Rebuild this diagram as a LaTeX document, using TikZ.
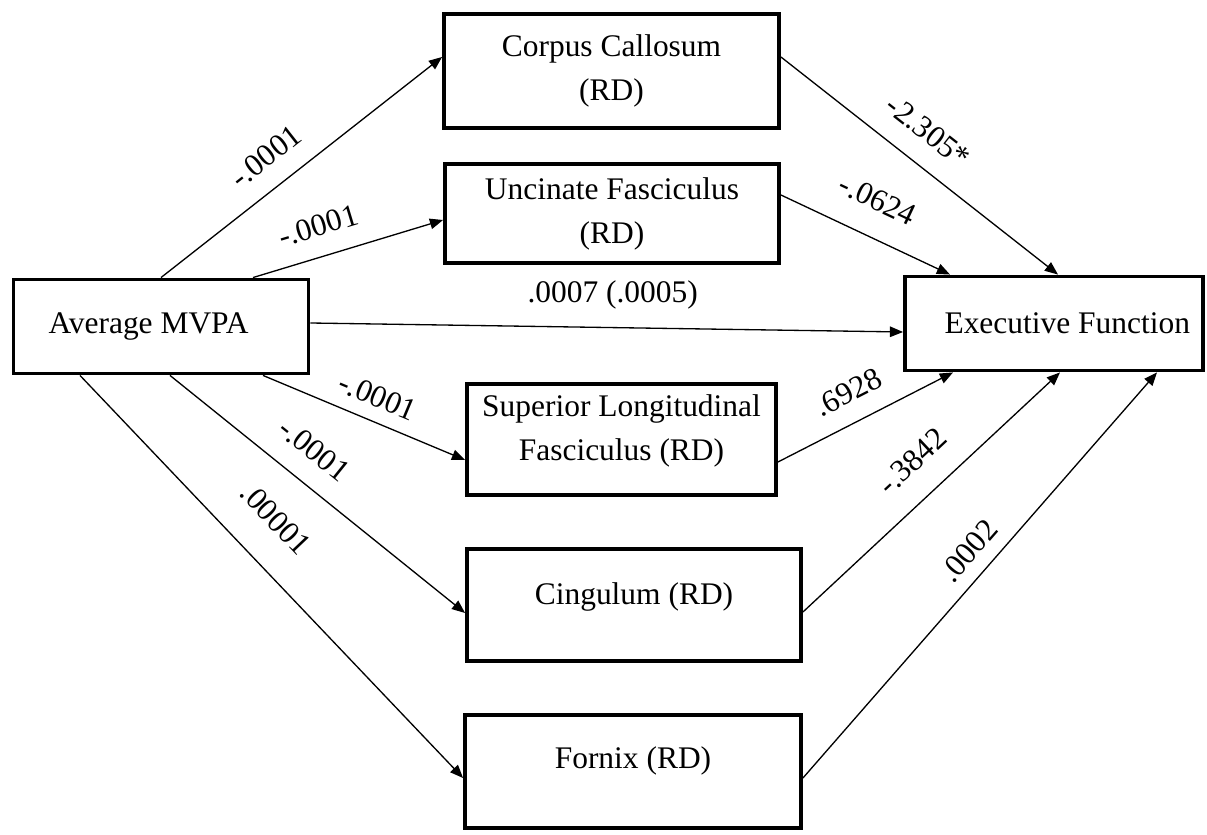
\documentclass[tikz,border=0pt]{standalone}
\usepackage{fontspec}
\setmainfont{Liberation Serif}
\usetikzlibrary{positioning,arrows.meta}

\begin{document}
\begin{tikzpicture}[
                box/.style={draw=black, line width=2.2pt, align=center, inner sep=2pt,
                            font=\fontsize{17.9}{25}\selectfont},
                arr/.style={-{Triangle[length=7.5pt,width=6pt]}, line width=0.75pt},
                lbl/.style={font=\fontsize{17.9}{20}\selectfont, inner sep=2pt},
                slbl/.style={lbl, sloped}
            ]
                \useasboundingbox (0,0) rectangle (24.14,16.68);
                \node[box, minimum width=5.9cm, minimum height=1.88cm, text width=4.5cm, align=flush left] (mvpa) at (3.22,10.15) {Average MVPA};
                \node[box, minimum width=6.7cm, minimum height=2.28cm] (cc) at (12.23,15.26) {Corpus Callosum\\(RD)};
                \node[box, minimum width=6.68cm, minimum height=1.98cm] (uf) at (12.24,12.41) {Uncinate Fasciculus\\(RD)};
                \node[box, minimum width=6.18cm, minimum height=2.22cm, text depth=14pt] (slf) at (12.43,7.89) {Superior Longitudinal\\Fasciculus (RD)};
                \node[box, minimum width=6.68cm, minimum height=2.24cm, text depth=12.9pt] (cing) at (12.68,4.58) {Cingulum (RD)};
                \node[box, minimum width=6.72cm, minimum height=2.26cm, text depth=16.4pt] (fx) at (12.66,1.25) {Fornix (RD)};
                \node[box, minimum width=5.96cm, minimum height=1.88cm, text width=5.44cm, align=flush right] (ef) at (21.08,10.21) {Executive Function};
                \draw[arr] (mvpa.north) -- node[slbl, above=9pt, pos=0.44] {-.0001} ([yshift=0.28cm]cc.west);
                \draw[arr] ([xshift=1.84cm]mvpa.north) -- node[slbl, above=9pt, pos=0.39] {-.0001} ([yshift=-0.13cm]uf.west);
                \draw[arr] ([yshift=0.07cm]mvpa.east) -- node[lbl, above=8pt, pos=0.51] {.0007 (.0005)} ([yshift=-0.17cm]ef.west);
                \draw[arr] ([xshift=2.04cm]mvpa.south) -- node[slbl, above=5.7pt, pos=0.52] {-.0001} ([yshift=-0.41cm]slf.west);
                \draw[arr] ([xshift=0.18cm]mvpa.south) -- node[slbl, above=10pt, pos=0.42] {-.0001} ([yshift=-0.16cm]cing.west);
                \draw[arr] ([xshift=-1.62cm]mvpa.south) -- node[slbl, above=16pt, pos=0.43] {.00001} ([yshift=-0.13cm]fx.west);
                \draw[arr] ([yshift=0.28cm]cc.east) -- node[slbl, above=10pt, pos=0.46] {-2.305*} ([xshift=0.08cm]ef.north);
                \draw[arr] ([yshift=0.37cm]uf.east) -- node[slbl, above=12.5pt, pos=0.48] {-.0624} ([xshift=-2.08cm]ef.north);
                \draw[arr] ([yshift=-0.45cm]slf.east) -- node[slbl, above=8.5pt, pos=0.48] {.6928} ([xshift=-2.02cm]ef.south);
                \draw[arr] ([yshift=-0.14cm]cing.east) -- node[slbl, above=12pt, pos=0.52] {-.3842} ([xshift=0.12cm]ef.south);
                \draw[arr] ([yshift=-0.13cm]fx.east) -- node[slbl, above=5.5pt, pos=0.52] {.0002} ([xshift=2.06cm]ef.south);
            \end{tikzpicture}
\end{document}
